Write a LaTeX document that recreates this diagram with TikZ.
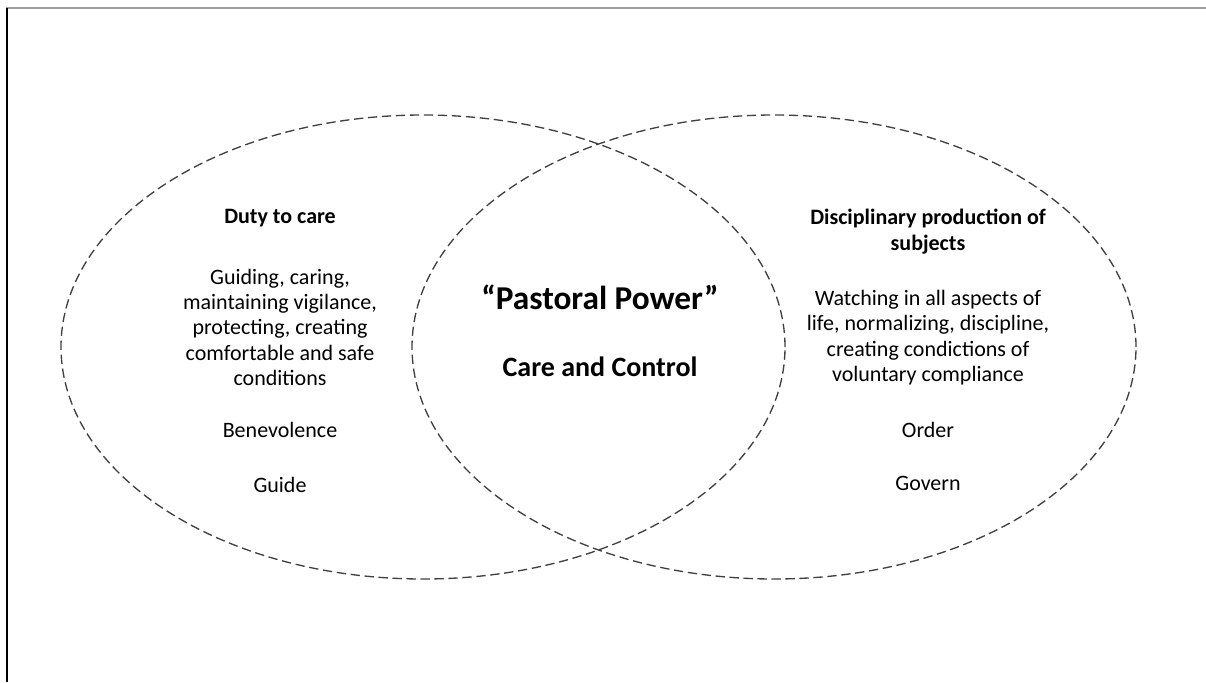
\documentclass[tikz,border=0pt]{standalone}
\usepackage{fontspec}
\setmainfont{Carlito}
\usetikzlibrary{shapes.geometric}

\begin{document}
\begin{tikzpicture}[x=0.75pt,y=-0.75pt,node distance=60pt]
  \tikzstyle{venn}=[ellipse,draw=black!75,line width=1pt,dash pattern=on 7pt off 3.5pt,
    minimum width=543pt,minimum height=348pt,inner sep=0pt]
  \tikzstyle{txt}=[align=center,inner sep=0pt,font=\fontsize{16.5}{19}\selectfont]

  \useasboundingbox (0,0) rectangle (1206,682);
  \draw[black!38,line width=1.2pt] (6,8) -- (1206,8);
  \draw[black,line width=1.5pt] (6.5,8) -- (6.5,682);

  \node[venn] (care) at (423,347) {};
  \node[venn] (control) at (774,347) {};

  % left side
  \node[txt,font=\fontsize{16.5}{19}\selectfont\bfseries] (duty) at (280,218) {Duty to care};
  \node[txt] (guiding) [below of=duty,node distance=82pt]
    {Guiding, caring,\\maintaining vigilance,\\protecting, creating\\comfortable and safe\\conditions};
  \node[txt] (benev) [below of=guiding,node distance=77pt] {Benevolence};
  \node[txt] (guide) [below of=benev,node distance=41pt] {Guide};

  % middle
  \node[txt,font=\fontsize{25}{30}\selectfont\bfseries] (pastoral) at (600,297) {``Pastoral Power''};
  \node[txt,font=\fontsize{21}{25}\selectfont\bfseries] (cc) [below of=pastoral,node distance=52.5pt] {Care and Control};

  % right side
  \node[txt,font=\fontsize{16.5}{20}\selectfont\bfseries] (disc) at (928,231.5) {Disciplinary production of\\subjects};
  \node[txt] (watching) [below of=disc,node distance=79.5pt]
    {Watching in all aspects of\\life, normalizing, discipline,\\creating condictions of\\voluntary compliance};
  \node[txt] (order) [below of=watching,node distance=69.4pt] {Order};
  \node[txt] (govern) [below of=order,node distance=40pt] {Govern};
\end{tikzpicture}
\end{document}
